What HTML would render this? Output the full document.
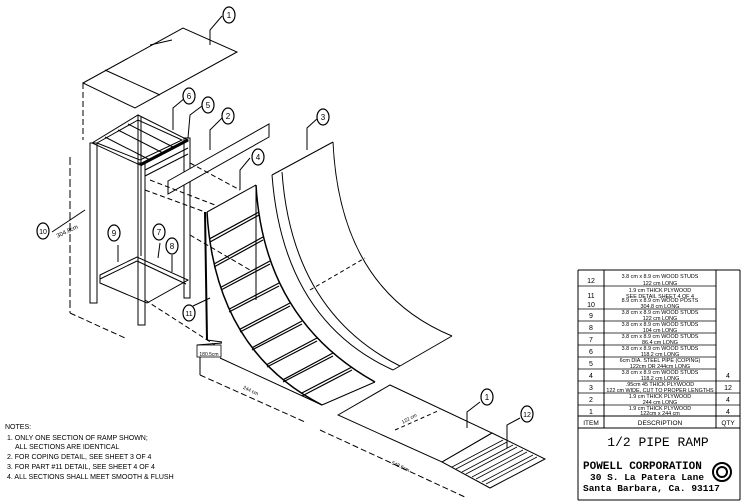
<!DOCTYPE html>
<html><head><meta charset="utf-8"><style>
html,body{margin:0;padding:0;background:#fff;}
svg{display:block;font-family:"Liberation Sans",sans-serif;}
</style></head><body>
<svg width="742" height="504" viewBox="0 0 742 504" xmlns="http://www.w3.org/2000/svg">
<g fill="none" stroke="#000" stroke-width="1">
<polygon points="83,83 183,28 237,52 135,108" fill="#fff"/>
<line x1="70" y1="157" x2="70" y2="313" stroke-dasharray="8,3"/>
<line x1="83" y1="83" x2="83" y2="140" stroke-dasharray="6,3"/>
<line x1="105" y1="70" x2="160" y2="95"/>
<line x1="150" y1="45" x2="172" y2="40"/>
<polygon points="92,143 138,115 188,140 140,165"/>
<polygon points="97,143 138,120 182,140 140,160"/>
<line x1="105" y1="137" x2="150" y2="160"/><line x1="118" y1="130" x2="163" y2="153"/><line x1="128" y1="124" x2="173" y2="147"/>
<line x1="140" y1="165" x2="188" y2="140" stroke-width="3"/>
<rect x="90" y="143" width="7" height="160"/>
<rect x="138" y="163" width="7" height="162"/>
<rect x="184" y="138" width="6" height="160"/>
<line x1="138" y1="115" x2="138" y2="258"/><line x1="141" y1="117" x2="141" y2="256"/>
<polygon points="100,275 137,257 188,280 147,303 100,283"/>
<line x1="100" y1="279" x2="137" y2="261"/><line x1="137" y1="261" x2="186" y2="284"/>
<line x1="70" y1="313" x2="125" y2="338" stroke-dasharray="6,3"/>
<line x1="145" y1="300" x2="215" y2="345" stroke-dasharray="5,3"/>
<polygon points="168,181 269,124 269,137 168,194" fill="#fff"/>
<line x1="145" y1="170" x2="188" y2="148"/><line x1="145" y1="176" x2="188" y2="154"/>
<line x1="190" y1="163" x2="240" y2="190" stroke-dasharray="5,3"/>
<line x1="150" y1="180" x2="215" y2="205" stroke-dasharray="5,3"/>
<line x1="145" y1="190" x2="205" y2="212" stroke-dasharray="5,3"/>
<line x1="190" y1="235" x2="250" y2="270" stroke-dasharray="5,3"/>
<line x1="207" y1="212" x2="256" y2="185"/>
<line x1="205" y1="212" x2="207" y2="340" stroke-width="2"/>
<path d="M207,212 Q215,350 322,405" stroke-width="1.5"/>
<path d="M256,185 Q264,320 375,382" stroke-width="1.5"/>
<line x1="322" y1="405" x2="375" y2="382"/>
<line x1="256" y1="185" x2="256" y2="300"/>
<g stroke-width="1.2">
<line x1="209.6" y1="238.8" x2="259" y2="212"/><line x1="210" y1="242" x2="259" y2="215"/>
<line x1="214.2" y1="263.9" x2="263" y2="237"/><line x1="214" y1="267" x2="263" y2="240"/>
<line x1="220.7" y1="287.4" x2="270" y2="261"/><line x1="221" y1="290" x2="270" y2="264"/>
<line x1="229.2" y1="309.1" x2="279" y2="283"/><line x1="229" y1="312" x2="279" y2="286"/>
<line x1="239.8" y1="329.3" x2="290" y2="303"/><line x1="240" y1="332" x2="290" y2="306"/>
<line x1="252.2" y1="347.7" x2="302" y2="321"/><line x1="252" y1="350" x2="302" y2="324"/>
<line x1="266.7" y1="364.6" x2="317" y2="338"/><line x1="267" y1="367" x2="317" y2="341"/>
<line x1="283.2" y1="379.7" x2="333" y2="353"/><line x1="283" y1="382" x2="333" y2="356"/>
<line x1="301.6" y1="393.1" x2="352" y2="367"/><line x1="302" y1="396" x2="352" y2="370"/>
</g>
<line x1="207" y1="340" x2="222" y2="342"/>
<line x1="197" y1="345" x2="222" y2="343"/>
<rect x="197" y="345" width="24" height="12" stroke-width="0.8"/>
<line x1="200" y1="357" x2="200" y2="375"/>
<line x1="220" y1="358" x2="322" y2="405"/>
<line x1="200" y1="375" x2="305" y2="422" stroke-dasharray="6,3"/>
<path d="M272,175 L333,142"/>
<path d="M272,175 Q283,320 393,370" />
<path d="M282,172 Q292,312 400,366" />
<path d="M333,142 Q340,290 452,336"/>
<line x1="393" y1="370" x2="452" y2="336"/>
<line x1="310" y1="290" x2="365" y2="258" stroke-dasharray="4,3"/>
<polygon points="338,415 390,385 492,433 442,462" fill="#fff"/>
<polygon points="442,462 492,433 545,459 490,488"/>
<g stroke-width="0.8">
<line x1="452" y1="467" x2="503" y2="440"/><line x1="462" y1="472" x2="513" y2="445"/><line x1="472" y1="477" x2="523" y2="450"/><line x1="482" y1="482" x2="533" y2="455"/>
<line x1="456" y1="469" x2="507" y2="442"/><line x1="466" y1="474" x2="517" y2="447"/><line x1="476" y1="479" x2="527" y2="452"/><line x1="486" y1="484" x2="537" y2="457"/>
</g>
<line x1="320" y1="430" x2="467" y2="498" stroke-dasharray="6,3"/>
<line x1="395" y1="430" x2="440" y2="410" stroke-dasharray="4,3"/>
<path d="M210,45 L210,30 L222,16"/>
<path d="M173,130 L173,108 L185,98"/>
<path d="M188,138 L190,115 L202,106"/>
<path d="M210,150 L210,130 L222,118"/>
<path d="M240,190 L240,170 L250,158"/>
<path d="M307,150 L307,128 L318,118"/>
<path d="M118,262 L118,245"/><path d="M158,258 L160,243"/><path d="M172,272 L172,255"/>
<path d="M52,232 L85,210"/>
<path d="M193,306 L210,298"/>
<path d="M467,428 L467,412 L480,402"/>
<path d="M507,448 L507,425 L520,418"/>
</g>
<g fill="#fff" stroke="#000" stroke-width="1.2" font-size="9" text-anchor="middle">
<ellipse cx="229" cy="15" rx="6" ry="8"/><ellipse cx="189" cy="96" rx="6" ry="8"/><ellipse cx="208" cy="105" rx="6" ry="8"/>
<ellipse cx="228" cy="116" rx="6" ry="8"/><ellipse cx="258" cy="157" rx="6" ry="8"/><ellipse cx="323" cy="117" rx="6" ry="8"/>
<ellipse cx="114" cy="233" rx="6" ry="8"/><ellipse cx="159" cy="232" rx="6" ry="8"/><ellipse cx="172" cy="246" rx="6" ry="8"/>
<ellipse cx="43" cy="231" rx="6" ry="8"/><ellipse cx="189" cy="313" rx="6" ry="8"/>
<ellipse cx="487" cy="397" rx="6" ry="8"/><ellipse cx="527" cy="414" rx="6" ry="8"/>
</g>
<g font-size="8" text-anchor="middle" fill="#000">
<text x="229" y="18">1</text><text x="189" y="99">6</text><text x="208" y="108">5</text><text x="228" y="119">2</text>
<text x="258" y="160">4</text><text x="323" y="120">3</text><text x="114" y="236">9</text><text x="159" y="235">7</text>
<text x="172" y="249">8</text><text x="43" y="234" font-size="7">10</text><text x="189" y="316" font-size="7">11</text>
<text x="487" y="400">1</text><text x="527" y="417" font-size="7">12</text>
<text x="68" y="233" font-size="6" transform="rotate(-25 68 233)">304.8cm</text>
<text x="209" y="356" font-size="5">180.5cm</text>
<text x="250" y="392" font-size="5" transform="rotate(25 250 392)">244 cm</text>
<text x="400" y="468" font-size="5" transform="rotate(25 400 468)">548.6cm</text>
<text x="410" y="420" font-size="5" transform="rotate(-28 410 420)">122 cm</text>
</g>
<g font-size="7" fill="#000">
<text x="5" y="429">NOTES:</text>
<text x="7" y="440">1. ONLY ONE SECTION OF RAMP SHOWN;</text>
<text x="15" y="449">ALL SECTIONS ARE IDENTICAL</text>
<text x="7" y="459">2. FOR COPING DETAIL, SEE SHEET 3 OF 4</text>
<text x="7" y="469">3. FOR PART #11 DETAIL, SEE SHEET 4 OF 4</text>
<text x="7" y="479">4. ALL SECTIONS SHALL MEET SMOOTH &amp; FLUSH</text>
</g>
<g stroke="#000" fill="none" stroke-width="1">
<polyline points="578,270 740,270"/>
<line x1="578" y1="270" x2="578" y2="428"/>
<line x1="604" y1="270" x2="604" y2="428"/>
<line x1="716" y1="270" x2="716" y2="428"/>
<line x1="740" y1="270" x2="740" y2="500"/>
<line x1="578" y1="416" x2="740" y2="416"/>
<line x1="578" y1="428" x2="740" y2="428"/>
<line x1="578" y1="500" x2="740" y2="500"/>
<line x1="578" y1="428" x2="578" y2="500"/>
</g>
<g stroke="#000" stroke-width="0.8">
<line x1="578" y1="286" x2="716" y2="286"/>
<line x1="578" y1="309" x2="716" y2="309"/>
<line x1="578" y1="321" x2="716" y2="321"/>
<line x1="578" y1="333" x2="716" y2="333"/>
<line x1="578" y1="345" x2="716" y2="345"/>
<line x1="578" y1="357" x2="716" y2="357"/>
<line x1="578" y1="369" x2="716" y2="369"/>
<line x1="578" y1="381" x2="740" y2="381"/>
<line x1="578" y1="393" x2="740" y2="393"/>
<line x1="578" y1="405" x2="740" y2="405"/>
</g>
<g font-size="7" fill="#000" text-anchor="middle">
<text x="591" y="283">12</text><text x="591" y="298">11</text><text x="591" y="307">10</text>
<text x="591" y="318">9</text><text x="591" y="330">8</text><text x="591" y="342">7</text><text x="591" y="354">6</text>
<text x="591" y="366">5</text><text x="591" y="378">4</text><text x="591" y="390">3</text><text x="591" y="402">2</text>
<text x="591" y="414">1</text><text x="591" y="425" font-size="6.5">ITEM</text>
<text x="660" y="425" font-size="6.5">DESCRIPTION</text><text x="728" y="425" font-size="6.5">QTY</text>
<text x="728" y="378">4</text><text x="728" y="390">12</text><text x="728" y="402">4</text><text x="728" y="414">4</text>
</g>
<g font-size="5.4" fill="#000" text-anchor="middle">
<text x="660" y="278">3.8 cm x 8.9 cm WOOD STUDS</text><text x="660" y="285">122 cm LONG</text>
<text x="660" y="292">1.9 cm THICK PLYWOOD</text><text x="660" y="298">SEE DETAIL SHEET 4 OF 4</text>
<text x="660" y="302">8.9 cm x 8.9 cm WOOD POSTS</text><text x="660" y="308">304.8 cm LONG</text>
<text x="660" y="314">3.8 cm x 8.9 cm WOOD STUDS</text><text x="660" y="320">122 cm LONG</text>
<text x="660" y="326">3.8 cm x 8.9 cm WOOD STUDS</text><text x="660" y="332">104 cm LONG</text>
<text x="660" y="338">3.8 cm x 8.9 cm WOOD STUDS</text><text x="660" y="344">86.4 cm LONG</text>
<text x="660" y="350">3.8 cm x 8.9 cm WOOD STUDS</text><text x="660" y="356">118.2 cm LONG</text>
<text x="660" y="362">6cm DIA. STEEL PIPE (COPING)</text><text x="660" y="368">122cm OR 244cm LONG</text>
<text x="660" y="374">3.8 cm x 8.9 cm WOOD STUDS</text><text x="660" y="380">118.2 cm LONG</text>
<text x="660" y="386">.95cm 45 THICK PLYWOOD</text><text x="660" y="392">122 cm WIDE, CUT TO PROPER LENGTHS</text>
<text x="660" y="398">1.9 cm THICK PLYWOOD</text><text x="660" y="404">244 cm LONG</text>
<text x="660" y="410">1.9 cm THICK PLYWOOD</text><text x="660" y="415">122cm x 244 cm</text>
</g>
<g fill="#000" font-family="Liberation Mono,monospace">
<text x="658" y="446" font-size="13" text-anchor="middle">1/2 PIPE RAMP</text>
<text x="583" y="469" font-size="11" font-weight="bold">POWELL CORPORATION</text>
<text x="590" y="480" font-size="9.5" font-weight="bold">30 S. La Patera Lane</text>
<text x="583" y="491" font-size="9.5" font-weight="bold">Santa Barbara, Ca. 93117</text>
</g>
<g fill="none" stroke="#000" stroke-width="2">
<circle cx="722" cy="472" r="9"/><circle cx="722" cy="472" r="5"/>
</g>
</svg>
</body></html>
